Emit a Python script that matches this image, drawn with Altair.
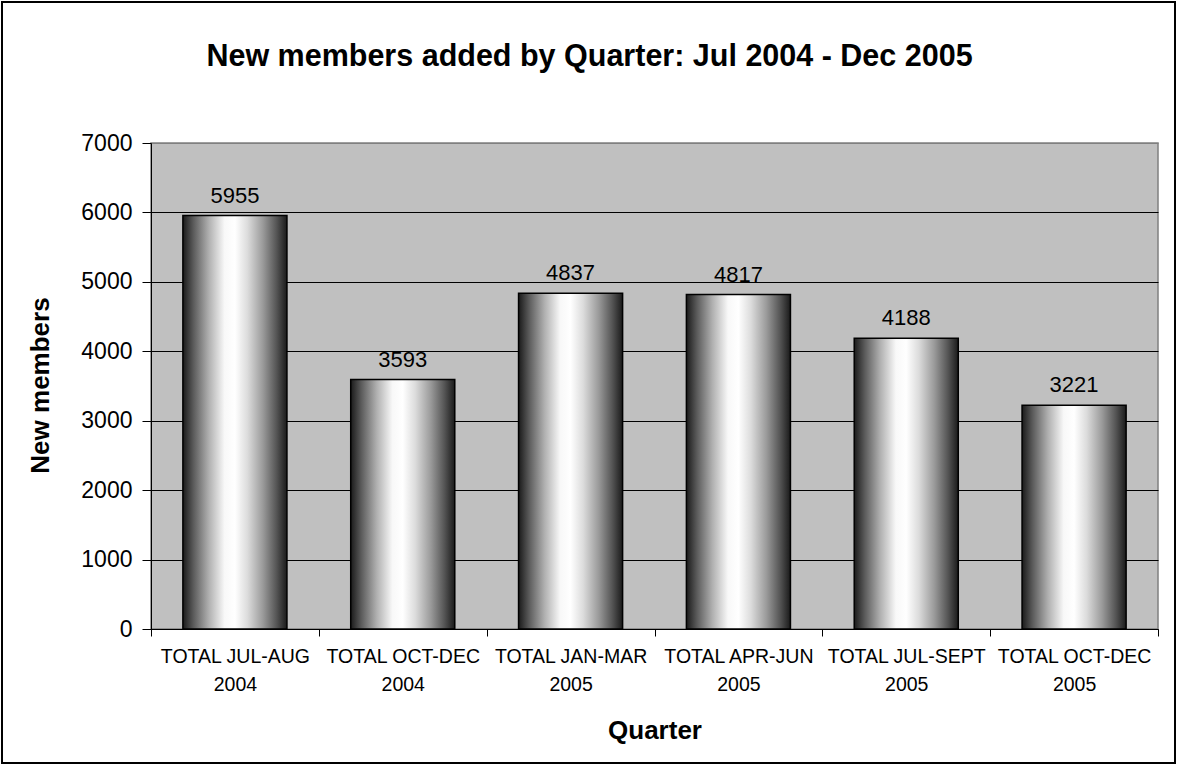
import altair as alt
import pandas as pd

categories = [
    "TOTAL JUL-AUG\n2004",
    "TOTAL OCT-DEC\n2004",
    "TOTAL JAN-MAR\n2005",
    "TOTAL APR-JUN\n2005",
    "TOTAL JUL-SEPT\n2005",
    "TOTAL OCT-DEC\n2005",
]
new_members = [5955, 3593, 4837, 4817, 4188, 3221]
y_ticks = [0, 1000, 2000, 3000, 4000, 5000, 6000, 7000]

df = pd.DataFrame({"quarter": categories, "members": new_members})

FONT = "Liberation Sans"

grad = alt.Gradient(
    gradient="linear", x1=0, x2=1, y1=0, y2=0,
    stops=[
        alt.GradientStop(offset=0.0, color="#1a1a1a"),
        alt.GradientStop(offset=0.1, color="#5a5a5a"),
        alt.GradientStop(offset=0.25, color="#b0b0b0"),
        alt.GradientStop(offset=0.4, color="#f8f8f8"),
        alt.GradientStop(offset=0.5, color="#ffffff"),
        alt.GradientStop(offset=0.62, color="#dcdcdc"),
        alt.GradientStop(offset=0.77, color="#9a9a9a"),
        alt.GradientStop(offset=0.9, color="#555555"),
        alt.GradientStop(offset=1.0, color="#1a1a1a"),
    ],
)

x_enc = alt.X(
    "quarter:N", sort=None,
    scale=alt.Scale(paddingInner=0, paddingOuter=0),
    axis=alt.Axis(
        title="Quarter", labelAngle=0, labelExpr="split(datum.label, '\\n')",
        labelFontSize=19.5, labelLineHeight=28, labelColor="black", labelPadding=11,
        labelFont=FONT, tickBand="extent", tickSize=7, tickColor="black",
        domainColor="black", grid=False,
        titleFontSize=26, titleFont=FONT, titleFontWeight="bold", titleColor="black",
        titleY=101, titleBaseline="middle",
    ),
)
y_enc = alt.Y(
    "members:Q",
    scale=alt.Scale(domain=[0, 7000], nice=False),
    axis=alt.Axis(
        title="New members", values=y_ticks, format="d", labelFontSize=23, labelFont=FONT,
        labelColor="black", labelPadding=10, tickSize=9, tickColor="black",
        domainColor="black",
        gridColor=alt.ConditionalAxisColor(
            condition={"test": "datum.value == 7000", "value": "#808080"}, value="black"
        ),
        gridWidth=1.2,
        titleFontSize=26, titleFont=FONT, titleFontWeight="bold", titleColor="black",
        titleX=-111, titleY=242, titleBaseline="middle", titleAngle=270,
    ),
)

bars = alt.Chart(df).mark_bar(
    color=grad, stroke="black", strokeWidth=1.5, width=alt.RelativeBandSize(0.62)
).encode(x=x_enc, y=y_enc)
labels = alt.Chart(df).mark_text(
    baseline="bottom", dy=-8, fontSize=22, font=FONT, color="black"
).encode(x=alt.X("quarter:N", sort=None), y="members:Q", text="members:Q")

border = alt.Chart(df.head(1)).mark_rect(
    fill=None, stroke="black", strokeWidth=2
).encode(
    x=alt.value(-149), x2=alt.value(1024), y=alt.value(-141), y2=alt.value(620)
)

chart = alt.layer(border, bars, labels).properties(
    width=1007, height=486,
    title=alt.TitleParams(
        "New members added by Quarter: Jul 2004 - Dec 2005",
        fontSize=30.5, font=FONT, fontWeight="bold", color="black",
        anchor="middle", dx=-65, offset=-71,
    ),
    padding={"left": 151, "top": 143, "right": 19, "bottom": 137},
    autosize=alt.AutoSizeParams(type="none"),
    background="white",
).configure_view(fill="#C0C0C0", stroke="#808080", strokeWidth=1.5)

chart.save("out.html", embed_options={"renderer": "svg", "actions": False})
